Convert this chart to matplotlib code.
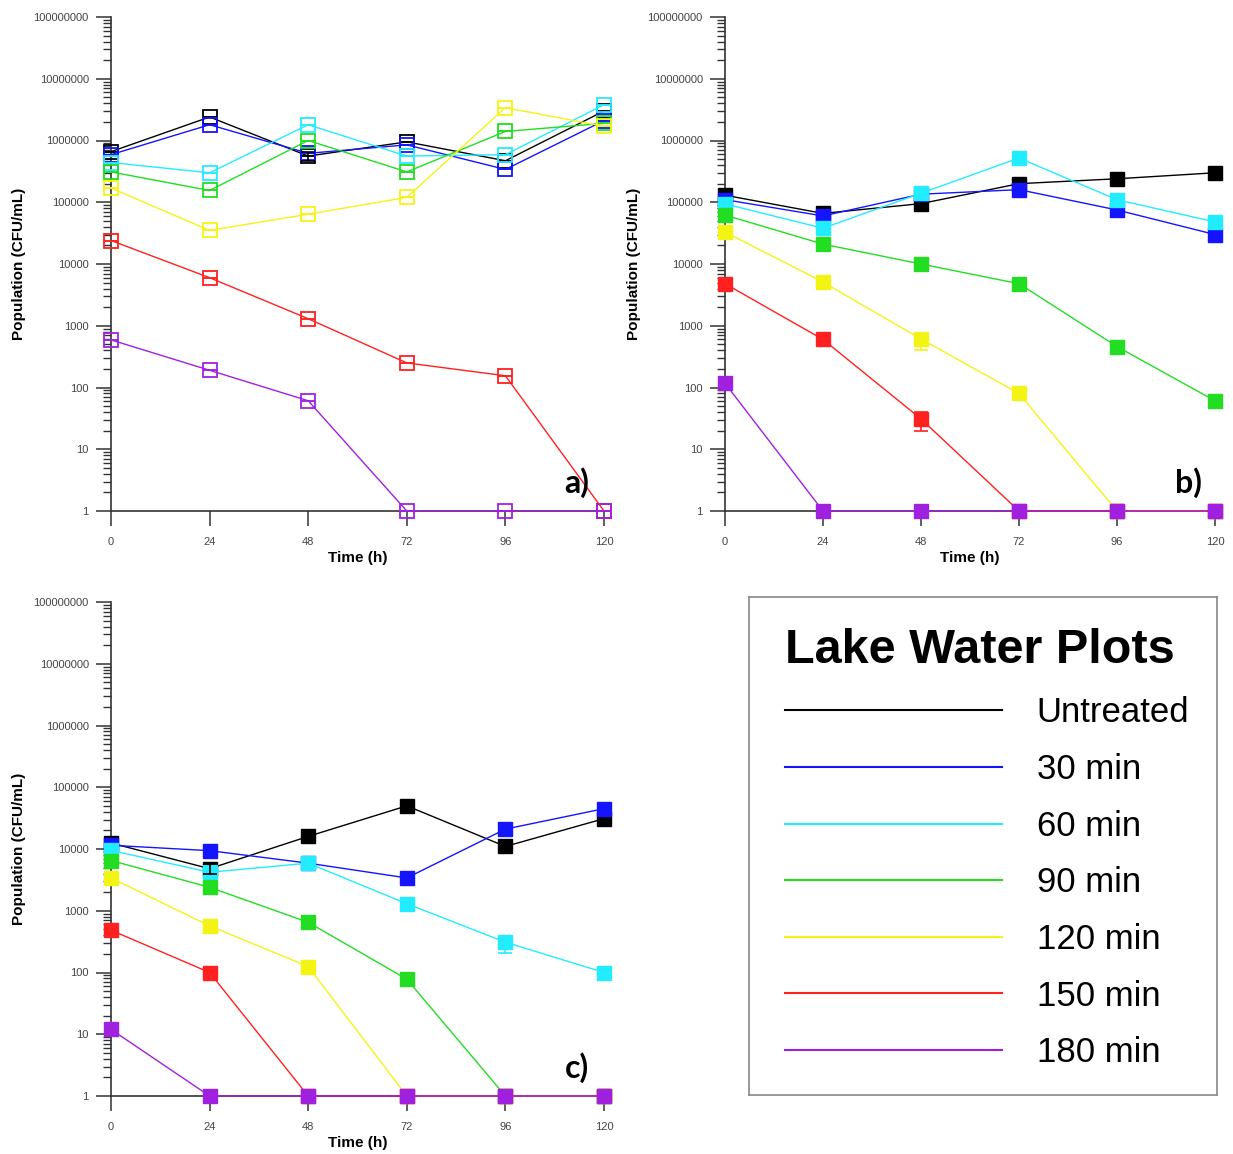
import numpy as np
import matplotlib
matplotlib.use("Agg")
import matplotlib.pyplot as plt
from matplotlib.ticker import LogLocator, FuncFormatter, NullFormatter, FixedLocator
from matplotlib.lines import Line2D

plt.rcParams['font.family'] = ['Liberation Sans', 'DejaVu Sans']

# time points (h) and treatment groups
hours = [0, 24, 48, 72, 96, 120]
series_labels = ["Untreated", "30 min", "60 min", "90 min", "120 min", "150 min", "180 min"]
series_colors = ["#000000", "#1414ff", "#22ecff", "#22dd22", "#f4f414", "#ff2020", "#a020e0"]

# panel a) population (CFU/mL)
a_untreated = [6.6e5, 2.4e6, 5.6e5, 9.5e5, 4.7e5, 3.0e6]
a_30 = [5.9e5, 1.8e6, 6.2e5, 8.5e5, 3.4e5, 2.1e6]
a_60 = [4.4e5, 3.0e5, 1.8e6, 5.6e5, 5.9e5, 3.8e6]
a_90 = [3.1e5, 1.55e5, 1.0e6, 3.1e5, 1.4e6, 1.9e6]
a_120 = [1.7e5, 3.5e4, 6.4e4, 1.2e5, 3.4e6, 1.7e6]
a_150 = [2.4e4, 6.0e3, 1.3e3, 250, 155, 1]
a_180 = [590, 190, 61, 1, 1, 1]

# panel b)
b_untreated = [1.3e5, 6.6e4, 9.5e4, 2.0e5, 2.4e5, 3.0e5]
b_30 = [1.1e5, 6.0e4, 1.35e5, 1.6e5, 7.5e4, 3.0e4]
b_60 = [9.4e4, 3.8e4, 1.4e5, 5.2e5, 1.1e5, 4.8e4]
b_90 = [6.2e4, 2.1e4, 1.0e4, 4.8e3, 460, 61]
b_120 = [3.3e4, 5.1e3, 610, 80, 1, 1]
b_150 = [4.8e3, 600, 31, 1, 1, 1]
b_180 = [117, 1, 1, 1, 1, 1]

# panel c)
c_untreated = [1.25e4, 4.8e3, 1.6e4, 5.0e4, 1.1e4, 3.1e4]
c_30 = [1.15e4, 9.4e3, 5.9e3, 3.4e3, 2.1e4, 4.5e4]
c_60 = [9.5e3, 4.2e3, 5.9e3, 1.3e3, 310, 100]
c_90 = [6.5e3, 2.4e3, 650, 78, 1, 1]
c_120 = [3.4e3, 570, 125, 1, 1, 1]
c_150 = [485, 100, 1, 1, 1, 1]
c_180 = [12, 1, 1, 1, 1, 1]

# visible error bars: (series, hour, low, high)
a_errors = [("Untreated", 48, 4.6e5, 6.6e5)]
b_errors = [("120 min", 48, 410, 700), ("150 min", 48, 20, 40)]
c_errors = [("60 min", 96, 210, 380), ("Untreated", 48, 1.3e4, 2.0e4),
            ("Untreated", 24, 4.0e3, 5.8e3), ("30 min", 24, 7.5e3, 1.1e4)]

W, H = 1233, 1154
fig = plt.figure(figsize=(W / 100, H / 100), dpi=100)


def px_axes(left, right, top, bottom):
    return [left / W, 1 - bottom / H, (right - left) / W, (bottom - top) / H]


def draw_panel(ax, series, errors, tag, filled):
    for vals, lab, col in zip(series, series_labels, series_colors):
        if filled:
            ax.plot(hours, vals, color=col, lw=1.0, marker="s", ms=9.5,
                    mfc=col, mec=col, clip_on=False, zorder=3)
        else:
            ax.plot(hours, vals, color=col, lw=1.0, marker="s", ms=9.5,
                    mfc="none", mec=col, mew=1.3, clip_on=False, zorder=3)
            # flat caps through the open markers
            eb = ax.errorbar(hours, vals, yerr=[0] * len(hours), fmt="none",
                             ecolor=col, capsize=5, elinewidth=1, capthick=1.1, zorder=3)
            for art in eb.lines[1]:
                art.set_clip_on(False)
    for lab, hr, lo, hi in errors:
        i = series_labels.index(lab)
        vals = series[i]
        v = vals[hours.index(hr)]
        eb = ax.errorbar([hr], [v], yerr=[[v - lo], [hi - v]], fmt="none",
                         ecolor=series_colors[i], capsize=5, elinewidth=1.2,
                         capthick=1.2, zorder=3)
        for art in eb.lines[1]:
            art.set_clip_on(False)

    ax.set_yscale("log")
    ax.set_ylim(1, 1e8)
    ax.set_xlim(0, 120)
    ax.xaxis.set_major_locator(FixedLocator(hours))
    ax.yaxis.set_major_locator(LogLocator(base=10, numticks=20))
    ax.yaxis.set_minor_locator(LogLocator(base=10, subs=np.arange(2, 10), numticks=100))
    ax.yaxis.set_major_formatter(FuncFormatter(lambda v, _: f"{int(round(v))}"))
    ax.yaxis.set_minor_formatter(NullFormatter())
    for s in ("top", "right"):
        ax.spines[s].set_visible(False)
    for s in ("left", "bottom"):
        ax.spines[s].set_color("#333333")
        ax.spines[s].set_linewidth(1.2)
    ax.tick_params(which="major", direction="out", length=11, width=1.1,
                   color="#333333", labelsize=8, labelcolor="#444444", pad=5)
    ax.tick_params(axis="x", which="major", pad=8)
    ax.tick_params(which="minor", direction="out", length=6, width=1.0, color="#333333")
    ax.set_xlabel("Time (h)", fontsize=11, fontweight="bold")
    ax.set_ylabel("Population (CFU/mL)", fontsize=11, fontweight="bold")
    ax.xaxis.set_label_coords(0.5, -0.08)
    ax.yaxis.set_label_coords(-0.172, 0.5)
    ax.text(0.945, 0.057, tag, transform=ax.transAxes, ha="center", va="center",
            fontsize=23, fontweight="bold", family=["Lato", "DejaVu Sans"])


ax_a = fig.add_axes(px_axes(111, 604, 17, 511))
draw_panel(ax_a, [a_untreated, a_30, a_60, a_90, a_120, a_150, a_180], a_errors, "a)", False)

ax_b = fig.add_axes(px_axes(725, 1215, 17, 511))
draw_panel(ax_b, [b_untreated, b_30, b_60, b_90, b_120, b_150, b_180], b_errors, "b)", True)

ax_c = fig.add_axes(px_axes(111, 604, 602, 1096))
draw_panel(ax_c, [c_untreated, c_30, c_60, c_90, c_120, c_150, c_180], c_errors, "c)", True)

# legend box
lax = fig.add_axes(px_axes(749, 1217, 597, 1095))
lax.set_xticks([])
lax.set_yticks([])
for s in lax.spines.values():
    s.set_color("#888888")
    s.set_linewidth(1.2)
handles = [Line2D([], [], color=c, lw=1.5) for c in series_colors]
leg = lax.legend(handles, series_labels, loc="upper left", bbox_to_anchor=(0.077, 0.938),
                 frameon=False, fontsize=25, title="Lake Water Plots",
                 title_fontproperties={"weight": "bold", "size": 35},
                 alignment="left", handlelength=6.25, handletextpad=1.0,
                 labelspacing=0.68, borderaxespad=0, borderpad=0)

fig.savefig("out.png", dpi=100)
